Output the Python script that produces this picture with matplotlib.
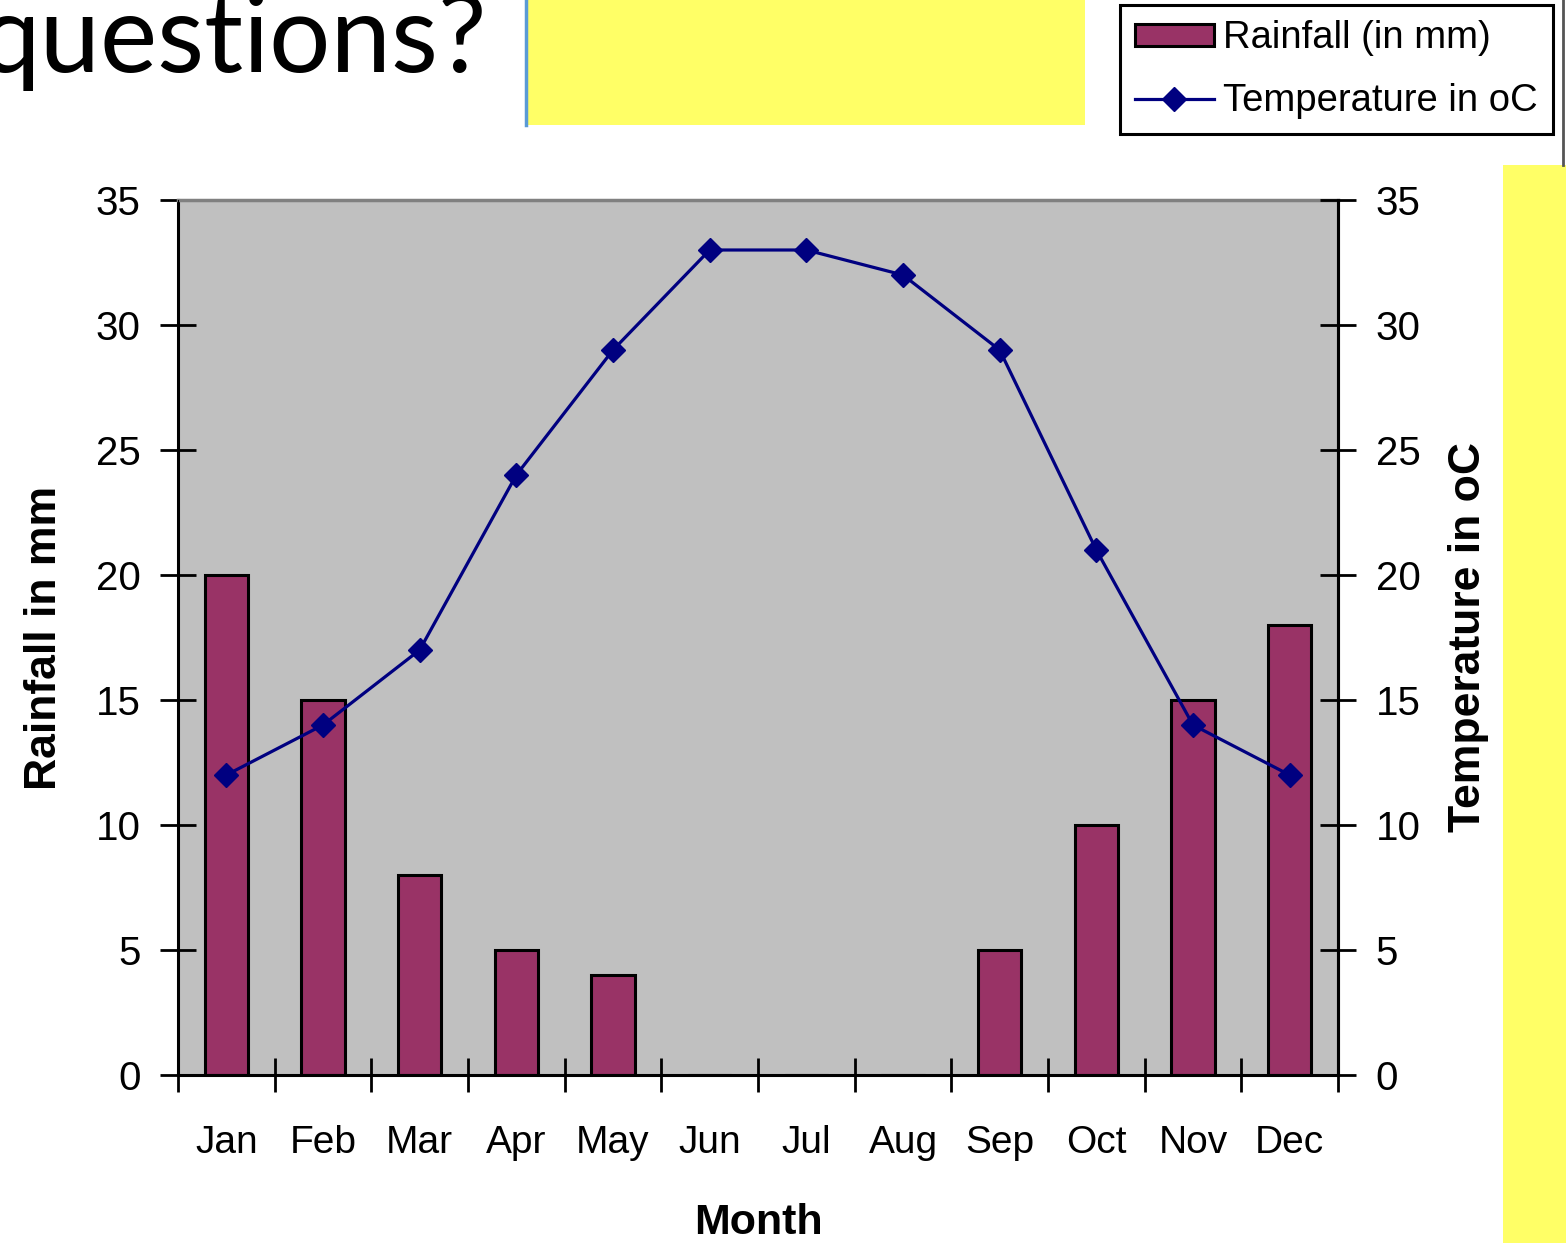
import matplotlib.pyplot as plt
from matplotlib.patches import Rectangle
from matplotlib.lines import Line2D

months = ['Jan', 'Feb', 'Mar', 'Apr', 'May', 'Jun', 'Jul', 'Aug', 'Sep', 'Oct', 'Nov', 'Dec']
rainfall = [20, 15, 8, 5, 4, 0, 0, 0, 5, 10, 15, 18]
temperature = [12, 14, 17, 24, 29, 33, 33, 32, 29, 21, 14, 12]
y_ticks = [0, 5, 10, 15, 20, 25, 30, 35]

W, H = 1566, 1243
BAR = '#993366'
LINE = '#000080'
YELLOW = '#FFFF66'

plt.rcParams['font.family'] = ['Liberation Sans', 'DejaVu Sans']

fig = plt.figure(figsize=(W / 100, H / 100), dpi=100)

# page decorations, laid out in pixel units
deco = fig.add_axes([0, 0, 1, 1], zorder=-1)
deco.set_xlim(0, W)
deco.set_ylim(H, 0)
deco.axis('off')
deco.add_patch(Rectangle((527, -2), 558, 127, facecolor=YELLOW, edgecolor='none'))
deco.plot([526, 526], [-2, 125], color='#5B9BD5', lw=2.5)
deco.add_patch(Rectangle((1503, 165), 70, 1090, facecolor=YELLOW, edgecolor='none'))
deco.plot([1563, 1563], [-2, 165], color='#555555', lw=2)
deco.text(487, 72, 'questions?', family=['Lato', 'DejaVu Sans'], fontsize=78,
          ha='right', va='baseline', color='black')

x = list(range(len(months)))

ax = fig.add_axes([178 / W, 1 - 1075 / H, (1338 - 178) / W, 875 / H])
ax.set_facecolor('#C0C0C0')
ax.bar(x, rainfall, width=0.45, color=BAR, edgecolor='black', linewidth=2.2,
       zorder=2, label='Rainfall (in mm)')
ax.set_xlim(-0.5, len(months) - 0.5)
ax.set_ylim(0, 35)
ax.set_yticks(y_ticks)
ax.set_xticks([i - 0.5 for i in range(len(months) + 1)])
ax.set_xticklabels([])
ax.set_xticks(x, minor=True)
ax.set_xticklabels(months, minor=True)
ax.tick_params(axis='x', which='major', direction='inout', length=24, width=2)
ax.tick_params(axis='x', which='minor', length=0, pad=36, labelsize=28)
ax.tick_params(axis='y', direction='inout', length=26, width=2, pad=14, labelsize=29)
for side in ['left', 'right', 'bottom']:
    ax.spines[side].set_linewidth(2.2)
ax.spines['top'].set_color('#808080')
ax.spines['top'].set_linewidth(2.5)
ax.set_xlabel('Month', fontsize=31, fontweight='bold', labelpad=30)
ax.set_ylabel('Rainfall in mm', fontsize=32, fontweight='bold', labelpad=22)

ax2 = ax.twinx()
ax2.plot(x, temperature, color=LINE, lw=2.3, marker='D', markersize=12,
         label='Temperature in oC', zorder=3)
ax2.set_ylim(0, 35)
ax2.set_yticks(y_ticks)
ax2.tick_params(axis='y', direction='inout', length=26, width=2, pad=14, labelsize=29)
ax2.spines['right'].set_linewidth(2.2)
ax2.spines['top'].set_visible(False)
ax2.set_ylabel('Temperature in oC', fontsize=32, fontweight='bold', labelpad=20)

handles = [Rectangle((0, 0), 1, 1, facecolor=BAR, edgecolor='black', linewidth=2.2),
           Line2D([], [], color=LINE, lw=2.3, marker='D', markersize=12)]
leg = fig.legend(handles, ['Rainfall (in mm)', 'Temperature in oC'],
                 loc='upper left', bbox_to_anchor=(1120 / W, 1 - 5 / H),
                 borderaxespad=0, fontsize=27.5, fancybox=False, framealpha=1,
                 edgecolor='black', handlelength=2.05, handleheight=0.5,
                 handletextpad=0.25, borderpad=0.4, labelspacing=0.7)
leg.get_frame().set_linewidth(2.2)

fig.savefig('out.png', dpi=100)
